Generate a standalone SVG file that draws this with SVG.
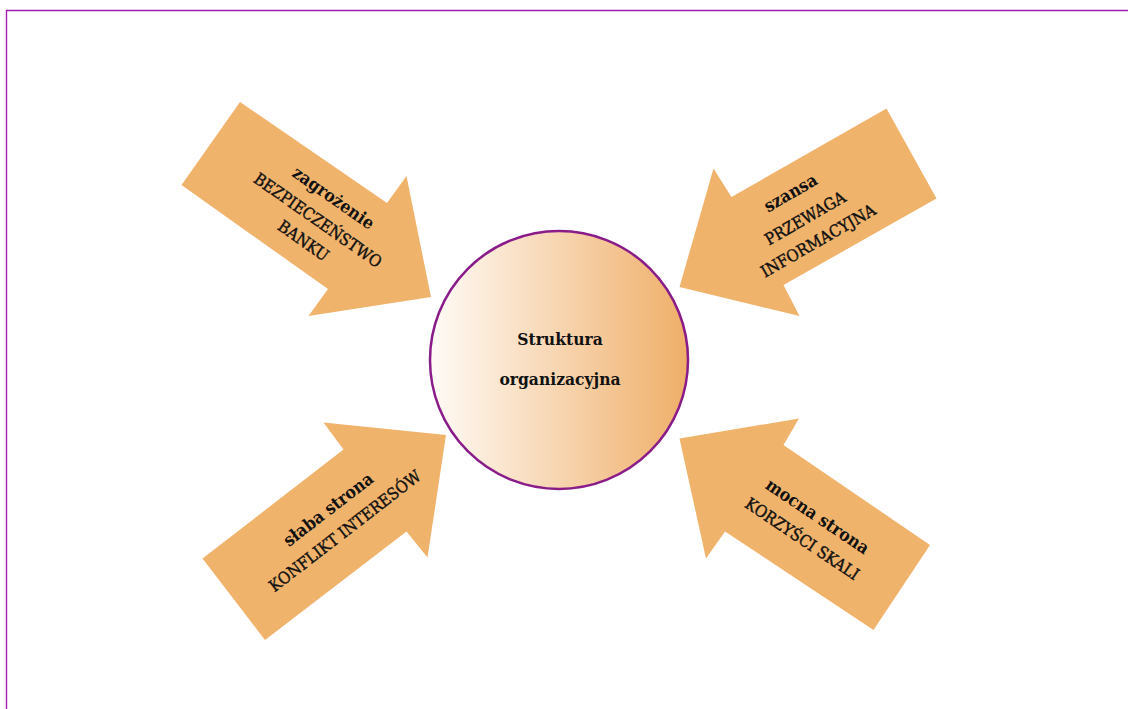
<svg xmlns="http://www.w3.org/2000/svg" width="1128" height="709" viewBox="0 0 1128 709">
  <style>
    .frame { stroke: #a41cb0; stroke-width: 1.4; fill: none; }
    .arrow { fill: #f0b36c; stroke: none; }
    .hub { stroke: #8a1c8a; stroke-width: 2.5; }
    .t { font-family: "DejaVu Serif Condensed", "DejaVu Serif", serif; font-stretch: condensed; fill: #111; text-anchor: middle; }
    .lo { font-weight: bold; font-size: 17.5px; }
    .up { font-size: 16.5px; stroke: #111; stroke-width: 0.4; }
    .hubtxt { font-family: "DejaVu Serif Condensed", "DejaVu Serif", serif; font-stretch: condensed; font-weight: bold; font-size: 17.3px; fill: #111; text-anchor: middle; }
  </style>
  <defs>
    <linearGradient id="hubFill" x1="0" y1="0" x2="1" y2="0">
      <stop offset="0" stop-color="#fffbf7"/>
      <stop offset="0.5" stop-color="#f7d5b0"/>
      <stop offset="1" stop-color="#efae68"/>
    </linearGradient>
  </defs>

  <rect width="1128" height="709" fill="#ffffff"/>

  <!-- page frame -->
  <g id="frame">
    <path class="frame" d="M6.5 709 V10.5 H1128"/>
  </g>

  <!-- arrows pointing at the hub -->
  <g id="connectors">
    <g id="threat">
      <polygon class="arrow" points="240,102 181.5,185 328,289 308.5,316 431,297 406.5,176 387,203"/>
      <g transform="translate(318,220) rotate(35)">
        <text class="t lo" x="0" y="-21">zagrożenie</text>
        <text class="t up" x="0" y="6">BEZPIECZEŃSTWO</text>
        <text class="t up" x="0" y="31">BANKU</text>
      </g>
    </g>
    <g id="opportunity">
      <polygon class="arrow" points="886.5,108.5 936.5,198.5 783.5,285 799.5,316 679.5,287 713.5,168.5 731.5,197"/>
      <g transform="translate(805,218) rotate(-30)">
        <text class="t lo" x="0" y="-23">szansa</text>
        <text class="t up" x="0" y="6">PRZEWAGA</text>
        <text class="t up" x="0" y="32">INFORMACYJNA</text>
      </g>
    </g>
    <g id="weakness">
      <polygon class="arrow" points="265,640 202.5,558.5 343.5,449.5 323.5,422.5 446,435 427.5,557.5 406.5,531.5"/>
      <g transform="translate(336.5,520) rotate(-37.7)">
        <text class="t lo" x="0" y="-7.5">słaba strona</text>
        <text class="t up" x="0" y="19.5">KONFLIKT INTERESÓW</text>
      </g>
    </g>
    <g id="strength">
      <polygon class="arrow" points="679.5,438.5 799,418.5 783.5,445 930,545 873.5,630 725,531.5 706,558.5"/>
      <g transform="translate(810,527.5) rotate(33.9)">
        <text class="t lo" x="0" y="-7.5">mocna strona</text>
        <text class="t up" x="0" y="19.5">KORZYŚCI SKALI</text>
      </g>
    </g>
  </g>

  <!-- central node -->
  <g id="hub">
    <circle class="hub" cx="559" cy="360" r="129" fill="url(#hubFill)"/>
    <text class="hubtxt" x="560" y="345">Struktura</text>
    <text class="hubtxt" x="560" y="385">organizacyjna</text>
  </g>
</svg>
